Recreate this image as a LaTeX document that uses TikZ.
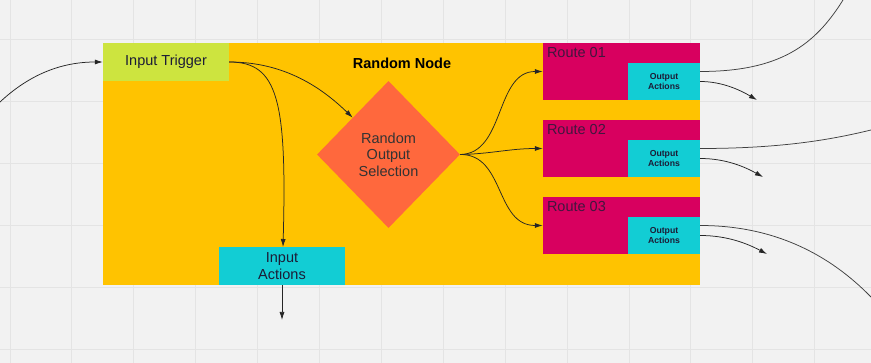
\documentclass[tikz,border=0pt]{standalone}
\usepackage{fontspec}
\setmainfont{Liberation Sans}
\usetikzlibrary{shapes.geometric, arrows.meta, backgrounds}
\usepackage{xcolor}

\definecolor{canvas}{HTML}{F2F2F2}
\definecolor{gridline}{HTML}{E4E4E4}
\definecolor{amber}{HTML}{FFC300}
\definecolor{lime}{HTML}{CDE43F}
\definecolor{aqua}{HTML}{12CDD4}
\definecolor{crimson}{HTML}{D8005F}
\definecolor{tomato}{HTML}{FF683D}
\definecolor{ink}{HTML}{1C1C36}

\tikzset{
    block/.style={rectangle, inner sep=0pt, text=ink, align=center,
        font=\fontsize{14.5}{16.5}\selectfont},
    route/.style={block, fill=crimson, minimum width=157pt, minimum height=57pt},
    outact/.style={block, fill=aqua, minimum width=72pt, minimum height=37pt,
        font=\fontsize{8.7}{10}\selectfont\bfseries},
    flow/.style={draw=black!85, line width=0.75pt, -{Latex[length=8pt,width=5pt]}},
    wire/.style={draw=black!75, line width=0.75pt},
}

\begin{document}
\begin{tikzpicture}[x=1pt, y=-1pt]
    % Sizes
    \pgfmathsetmacro{\gap}{61.9}
    \useasboundingbox (0,0) rectangle (871,363);

    % nodes
    \node[block, fill=lime, minimum width=126pt, minimum height=38pt] (trig) at (166,62) {Input Trigger};
    \node[block, font=\fontsize{14.5}{16.5}\selectfont\bfseries, text=black] (title) at (402,63) {Random Node};
    \node[diamond, aspect=1, inner sep=0pt, fill=tomato, minimum width=143pt, minimum height=147pt,
        align=center, text=black!80, font=\fontsize{14.5}{16.5}\selectfont] (sel) at (388.5,154.5) {Random\\Output\\Selection};
    \node[block, fill=aqua, minimum width=126pt, minimum height=38pt] (inact) at (282,266) {Input\\Actions};

    \node[route] (r1) at (621.5,71.5) {};
    \node[route] (r2) at (621.5,148.5) {};
    \node[route] (r3) at (621.5,225.5) {};
    \node[outact] (o1) at (664,81.5) {Output\\Actions};
    \node[outact] (o2) at (664,158.5) {Output\\Actions};
    \node[outact] (o3) at (664,235.5) {Output\\Actions};

    % labels
    \node[block, anchor=west, text=ink!80!crimson, xshift=4pt, yshift=-10pt] at (r1.north west) {Route 01};
    \node[block, anchor=west, text=ink!80!crimson, xshift=4pt, yshift=-10pt] at (r2.north west) {Route 02};
    \node[block, anchor=west, text=ink!80!crimson, xshift=4pt, yshift=-10pt] at (r3.north west) {Route 03};

    % loose ends
    \coordinate (src) at (0,102);
    \coordinate (sink) at (282,320);
    \coordinate (e1) at (843,0);
    \coordinate (a1) at (757,100);
    \coordinate (e2) at (871,130);
    \coordinate (a2) at (763,177);
    \coordinate (e3) at (871,297);
    \coordinate (a3) at (767,254);

    % draw diagram
    \draw[flow] (src) .. controls (30,74) and (62,62) .. (trig.west);
    \draw[flow] (trig.east) .. controls (285,62) and (322,88) .. (sel.north west);
    \draw[flow] (trig.east) .. controls (278,62) and (287,100) .. (283,247);
    \draw[flow] (inact.south) -- (sink);

    \draw[flow] (sel.east) .. controls (505,154) and (495,71.5) .. (r1.west);
    \draw[flow] (sel.east) .. controls (490,154) and (510,148.5) .. (r2.west);
    \draw[flow] (sel.east) .. controls (505,154) and (495,225.5) .. (r3.west);

    \draw[wire] (r1.east) .. controls (780,71.5) and (815,45) .. (e1);
    \draw[flow] (o1.east) .. controls (722,81.5) and (740,90) .. (a1);
    \draw[wire] (r2.east) .. controls (780,148.5) and (830,140) .. (e2);
    \draw[flow] (o2.east) .. controls (726,158.5) and (745,167) .. (a2);
    \draw[wire] (r3.east) .. controls (775,225.5) and (830,255) .. (e3);
    \draw[flow] (o3.east) .. controls (728,235.5) and (748,244) .. (a3);

    \begin{scope}[on background layer]
        \fill[canvas] (0,0) rectangle (871,363);
        \foreach \i in {0,...,13}
            \draw[gridline, line width=1pt] ({10+\i*\gap},0) -- ({10+\i*\gap},363);
        \foreach \j in {0,...,5}
            \draw[gridline, line width=1pt] (0,{40+\j*\gap}) -- (871,{40+\j*\gap});
        \node[fill=amber, inner sep=0pt, minimum width=597pt, minimum height=242pt] (rn) at (401.5,164) {};
    \end{scope}
\end{tikzpicture}
\end{document}
